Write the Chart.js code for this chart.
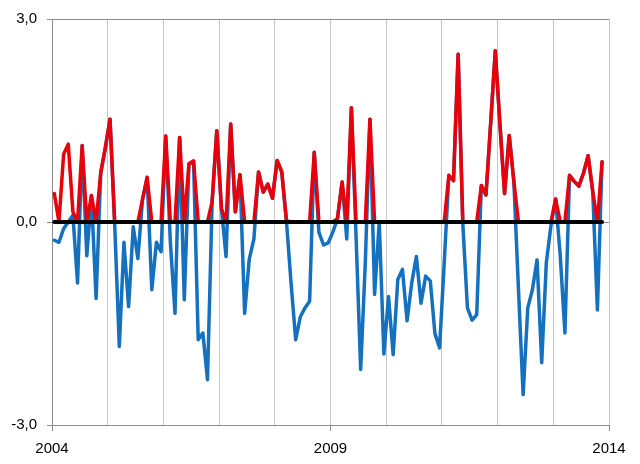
<!DOCTYPE html>
<html>
<head>
<meta charset="utf-8">
<script src="https://cdn.jsdelivr.net/npm/chart.js@4.4.1/dist/chart.umd.min.js"></script>
<style>
  html, body { margin: 0; padding: 0; background: #fff; }
  #wrap { width: 640px; height: 464px; }
</style>
</head>
<body>
<div id="wrap"><canvas id="chart" width="640" height="464"></canvas></div>
<script>
// monthly values, Jan 2004 .. Nov 2013
const yearLabels = ['2004', '2009', '2014'];

const index = [
  -0.27, -0.3, -0.1, 0.0, 0.1, -0.9, 1.13, -0.5, 0.39, -1.13, 0.73, 1.1,     // 2004
  1.52, -0.02, -1.84, -0.3, -1.25, -0.07, -0.54, 0.33, 0.66, -1.0, -0.3, -0.44, // 2005
  1.27, -0.3, -1.35, 1.25, -1.15, 0.86, 0.9, -1.74, -1.64, -2.33, 0.3, 1.35,  // 2006
  0.2, -0.51, 1.45, 0.15, 0.7, -1.35, -0.55, -0.25, 0.74, 0.44, 0.56, 0.35,   // 2007
  0.91, 0.74, 0.02, -0.9, -1.74, -1.4, -1.27, -1.17, 1.03, -0.15, -0.34, -0.31, // 2008
  -0.15, 0.05, 0.59, -0.25, 1.69, -0.2, -2.18, -0.6, 1.52, -1.07, 0.0, -1.95, // 2009
  -1.1, -1.96, -0.85, -0.7, -1.46, -0.9, -0.51, -1.2, -0.8, -0.87, -1.65, -1.86, // 2010
  -0.6, 0.69, 0.61, 2.48, -0.02, -1.27, -1.45, -1.37, 0.54, 0.4, 1.45, 2.53,  // 2011
  1.45, 0.42, 1.28, 0.6, -1.0, -2.55, -1.27, -1.0, -0.56, -2.08, -0.6, -0.05, // 2012
  0.34, -0.5, -1.64, 0.69, 0.6, 0.53, 0.72, 0.98, 0.45, -1.3, 0.89            // 2013
];

const positive = [
  0.42, 0, 1.0, 1.15, 0.15, 0, 1.13, 0, 0.39, 0, 0.73, 1.1,   // 2004
  1.52, 0, 0, 0, 0, 0, 0, 0.33, 0.66, 0, 0, 0,                // 2005
  1.27, 0, 0, 1.25, 0, 0.86, 0.9, 0, 0, 0, 0.3, 1.35,         // 2006
  0.2, 0, 1.45, 0.15, 0.7, 0, 0, 0, 0.74, 0.44, 0.56, 0.35,   // 2007
  0.91, 0.74, 0.02, 0, 0, 0, 0, 0, 1.03, 0, 0, 0,             // 2008
  0, 0.05, 0.59, 0, 1.69, 0, 0, 0, 1.52, 0, 0, 0,             // 2009
  0, 0, 0, 0, 0, 0, 0, 0, 0, 0, 0, 0,                         // 2010
  0, 0.69, 0.61, 2.48, 0, 0, 0, 0, 0.54, 0.4, 1.45, 2.53,     // 2011
  1.45, 0.42, 1.28, 0.6, 0, 0, 0, 0, 0, 0, 0, 0,              // 2012
  0.34, 0, 0, 0.69, 0.6, 0.53, 0.72, 0.98, 0.45, 0, 0.89      // 2013
];

// points sit in the middle of each month
const toPoints = arr => arr.map((v, i) => ({ x: i + 0.5, y: v }));
const baseline = index.map((v, i) => ({ x: i + 0.5, y: 0 }));

const axisGray = '#8c8c8c';
const gridGray = '#c6c6c6';

const ctx = document.getElementById('chart').getContext('2d');
const chart = new Chart(ctx, {
    type: 'line',
    data: {
        datasets: [
            {
                data: baseline,
                order: 0,
                borderColor: '#000000',
                borderWidth: 4,
                pointRadius: 0,
                borderCapStyle: 'round'
            },
            {
                data: toPoints(positive),
                order: 1,
                borderColor: '#E8000B',
                borderWidth: 3.5,
                pointRadius: 0,
                borderJoinStyle: 'round',
                borderCapStyle: 'round'
            },
            {
                data: toPoints(index),
                order: 2,
                borderColor: '#1570BE',
                borderWidth: 3.5,
                pointRadius: 0,
                borderJoinStyle: 'round',
                borderCapStyle: 'round'
            }
        ]
    },
    options: {
        responsive: false,
        animation: false,
        layout: { padding: { top: 16, right: 31, left: 0, bottom: 0 } },
        plugins: {
            legend: { display: false },
            tooltip: { enabled: false }
        },
        scales: {
            x: {
                type: 'linear',
                min: 0,
                max: 120,
                afterFit: scale => { scale.height = 39; },
                border: { color: axisGray, width: 1 },
                grid: {
                    color: ctx => (ctx.tick && ctx.tick.value === 0) ? axisGray : gridGray,
                    tickColor: ctx => (ctx.tick && ctx.tick.value % 60 === 0) ? axisGray : 'rgba(0,0,0,0)',
                    tickLength: 6
                },
                ticks: {
                    stepSize: 12,
                    autoSkip: false,
                    maxRotation: 0,
                    padding: 9,
                    color: '#000',
                    font: { family: 'Liberation Sans', size: 15 },
                    callback: v => v % 60 === 0 ? yearLabels[v / 60] : ''
                }
            },
            y: {
                min: -3,
                max: 3,
                afterFit: scale => { scale.width = 52; },
                border: { color: axisGray, width: 1 },
                grid: {
                    color: axisGray,
                    tickColor: axisGray,
                    tickLength: 5
                },
                ticks: {
                    stepSize: 3,
                    padding: 10,
                    color: '#000',
                    font: { family: 'Liberation Sans', size: 15 },
                    callback: v => v.toFixed(1).replace('.', ',')
                }
            }
        }
    }
});
</script>
</body>
</html>
